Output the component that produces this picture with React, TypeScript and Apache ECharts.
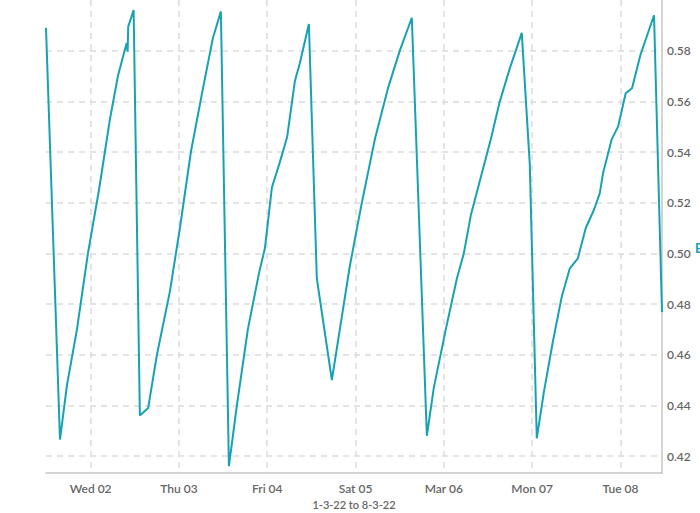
import React, { useEffect, useRef } from "react";
import * as echarts from "echarts";

// Sample times (local) and values
const times: string[] = [
  "2022-03-01 11:52", "2022-03-01 15:40", "2022-03-01 17:34", "2022-03-01 20:17", "2022-03-01 23:16",
  "2022-03-02 02:16", "2022-03-02 05:15", "2022-03-02 07:25", "2022-03-02 09:47", "2022-03-02 10:03",
  "2022-03-02 10:13", "2022-03-02 11:41", "2022-03-02 13:23", "2022-03-02 15:39", "2022-03-02 18:01",
  "2022-03-02 21:33", "2022-03-03 00:16", "2022-03-03 03:15", "2022-03-03 06:31", "2022-03-03 09:14",
  "2022-03-03 11:24", "2022-03-03 13:35", "2022-03-03 15:45", "2022-03-03 18:44", "2022-03-03 21:44",
  "2022-03-03 23:22", "2022-03-04 01:16", "2022-03-04 03:26", "2022-03-04 05:25", "2022-03-04 07:31",
  "2022-03-04 08:52", "2022-03-04 11:19", "2022-03-04 13:29", "2022-03-04 17:34", "2022-03-04 19:44",
  "2022-03-04 22:27", "2022-03-05 01:43", "2022-03-05 05:15", "2022-03-05 08:47", "2022-03-05 12:02",
  "2022-03-05 15:18", "2022-03-05 19:23", "2022-03-05 21:17", "2022-03-06 00:32", "2022-03-06 03:32",
  "2022-03-06 05:26", "2022-03-06 07:20", "2022-03-06 10:03", "2022-03-06 12:46", "2022-03-06 15:13",
  "2022-03-06 17:56", "2022-03-06 21:11", "2022-03-06 23:22", "2022-03-07 01:16", "2022-03-07 03:10",
  "2022-03-07 05:37", "2022-03-07 08:04", "2022-03-07 10:14", "2022-03-07 12:25", "2022-03-07 14:35",
  "2022-03-07 16:45", "2022-03-07 18:23", "2022-03-07 19:16", "2022-03-07 21:38", "2022-03-07 23:21",
  "2022-03-08 01:26", "2022-03-08 03:09", "2022-03-08 05:26", "2022-03-08 09:08", "2022-03-08 11:18",
];

const values: number[] = [
  0.589, 0.4265, 0.448, 0.470, 0.500,
  0.525, 0.553, 0.570, 0.583, 0.5796,
  0.5895, 0.596, 0.436, 0.439, 0.460,
  0.485, 0.510, 0.540, 0.565, 0.585,
  0.5955, 0.4160, 0.440, 0.470, 0.492,
  0.502, 0.526, 0.536, 0.546, 0.568,
  0.575, 0.5905, 0.490, 0.450, 0.470,
  0.495, 0.520, 0.545, 0.565, 0.580,
  0.593, 0.428, 0.447, 0.470, 0.490,
  0.500, 0.515, 0.530, 0.545, 0.560,
  0.573, 0.587, 0.535, 0.427, 0.445,
  0.465, 0.483, 0.494, 0.498, 0.510,
  0.517, 0.5237, 0.5316, 0.545, 0.550,
  0.5632, 0.5652, 0.5783, 0.594, 0.4768,
];

// Tick labels by day of month
const dayLabels: Record<number, string> = {
  2: "Wed 02",
  3: "Thu 03",
  4: "Fri 04",
  5: "Sat 05",
  6: "Mar 06",
  7: "Mon 07",
  8: "Tue 08",
};

const xAxisTitle = "1-3-22 to 8-3-22";
const yAxisTitle = "B";
const yMin = 0.4133;
const yMax = 0.6;

function parseLocal(s: string): number {
  const [d, t] = s.split(" ");
  const [y, m, dd] = d.split("-").map(Number);
  const [hh, mm] = t.split(":").map(Number);
  return new Date(y, m - 1, dd, hh, mm).getTime();
}

export default function App() {
  const ref = useRef<HTMLDivElement>(null);

  useEffect(() => {
    if (!ref.current) return;
    const chart = echarts.init(ref.current, undefined, { renderer: "svg" });
    const data = times.map((t, i) => [parseLocal(t), values[i]]);
    const font = "Lato, 'Open Sans', sans-serif";
    chart.setOption({
      animation: false,
      grid: {
        left: 46,
        right: 38,
        top: 0,
        bottom: 40,
        containLabel: false,
        outerBoundsMode: "none",
      },
      graphic: [
        {
          type: "text",
          x: 695,
          y: 241,
          style: {
            text: yAxisTitle,
            fill: "#17a2b2",
            font: "bold 13px Lato, 'Open Sans', sans-serif",
          },
        },
      ],
      xAxis: {
        type: "time",
        min: data[0][0],
        max: data[data.length - 1][0],
        minInterval: 86400000,
        maxInterval: 86400000,
        name: xAxisTitle,
        nameLocation: "middle",
        nameGap: 26,
        nameTextStyle: { color: "#666", fontSize: 11, fontFamily: font, fontWeight: 600 },
        axisLine: { show: true, lineStyle: { color: "#c6c6c6", width: 1.5 } },
        axisTick: { show: false },
        axisLabel: {
          color: "#666",
          fontSize: 12,
          fontWeight: 600,
          fontFamily: font,
          margin: 9,
          showMinLabel: false,
          showMaxLabel: false,
          formatter: (v: number) => {
            const d = new Date(v);
            return dayLabels[d.getDate()] ?? "";
          },
        },
        splitLine: {
          show: true,
          showMinLine: false,
          showMaxLine: false,
          lineStyle: { color: "#dcdcdc", type: [6, 5], width: 1.5 },
        },
      },
      yAxis: {
        type: "value",
        position: "right",
        min: yMin,
        max: yMax,
        splitNumber: 9,
        axisLine: { show: true, lineStyle: { color: "#c6c6c6", width: 1.5 } },
        axisTick: { show: false },
        axisLabel: {
          color: "#666",
          fontSize: 12,
          fontWeight: 600,
          fontFamily: font,
          margin: 5,
          showMinLabel: false,
          showMaxLabel: false,
          formatter: (v: number) => v.toFixed(2),
        },
        splitLine: {
          show: true,
          showMinLine: false,
          showMaxLine: false,
          lineStyle: { color: "#dcdcdc", type: [6, 5], width: 1.5 },
        },
      },
      series: [
        {
          type: "line",
          data,
          showSymbol: false,
          symbol: "none",
          lineStyle: { color: "#17a2b2", width: 2 },
          itemStyle: { color: "#17a2b2" },
        },
      ],
    });
    return () => chart.dispose();
  }, []);

  return (
    <div
      ref={ref}
      style={{ position: "fixed", left: 0, top: 0, width: 700, height: 513, background: "#fff" }}
    />
  );
}
